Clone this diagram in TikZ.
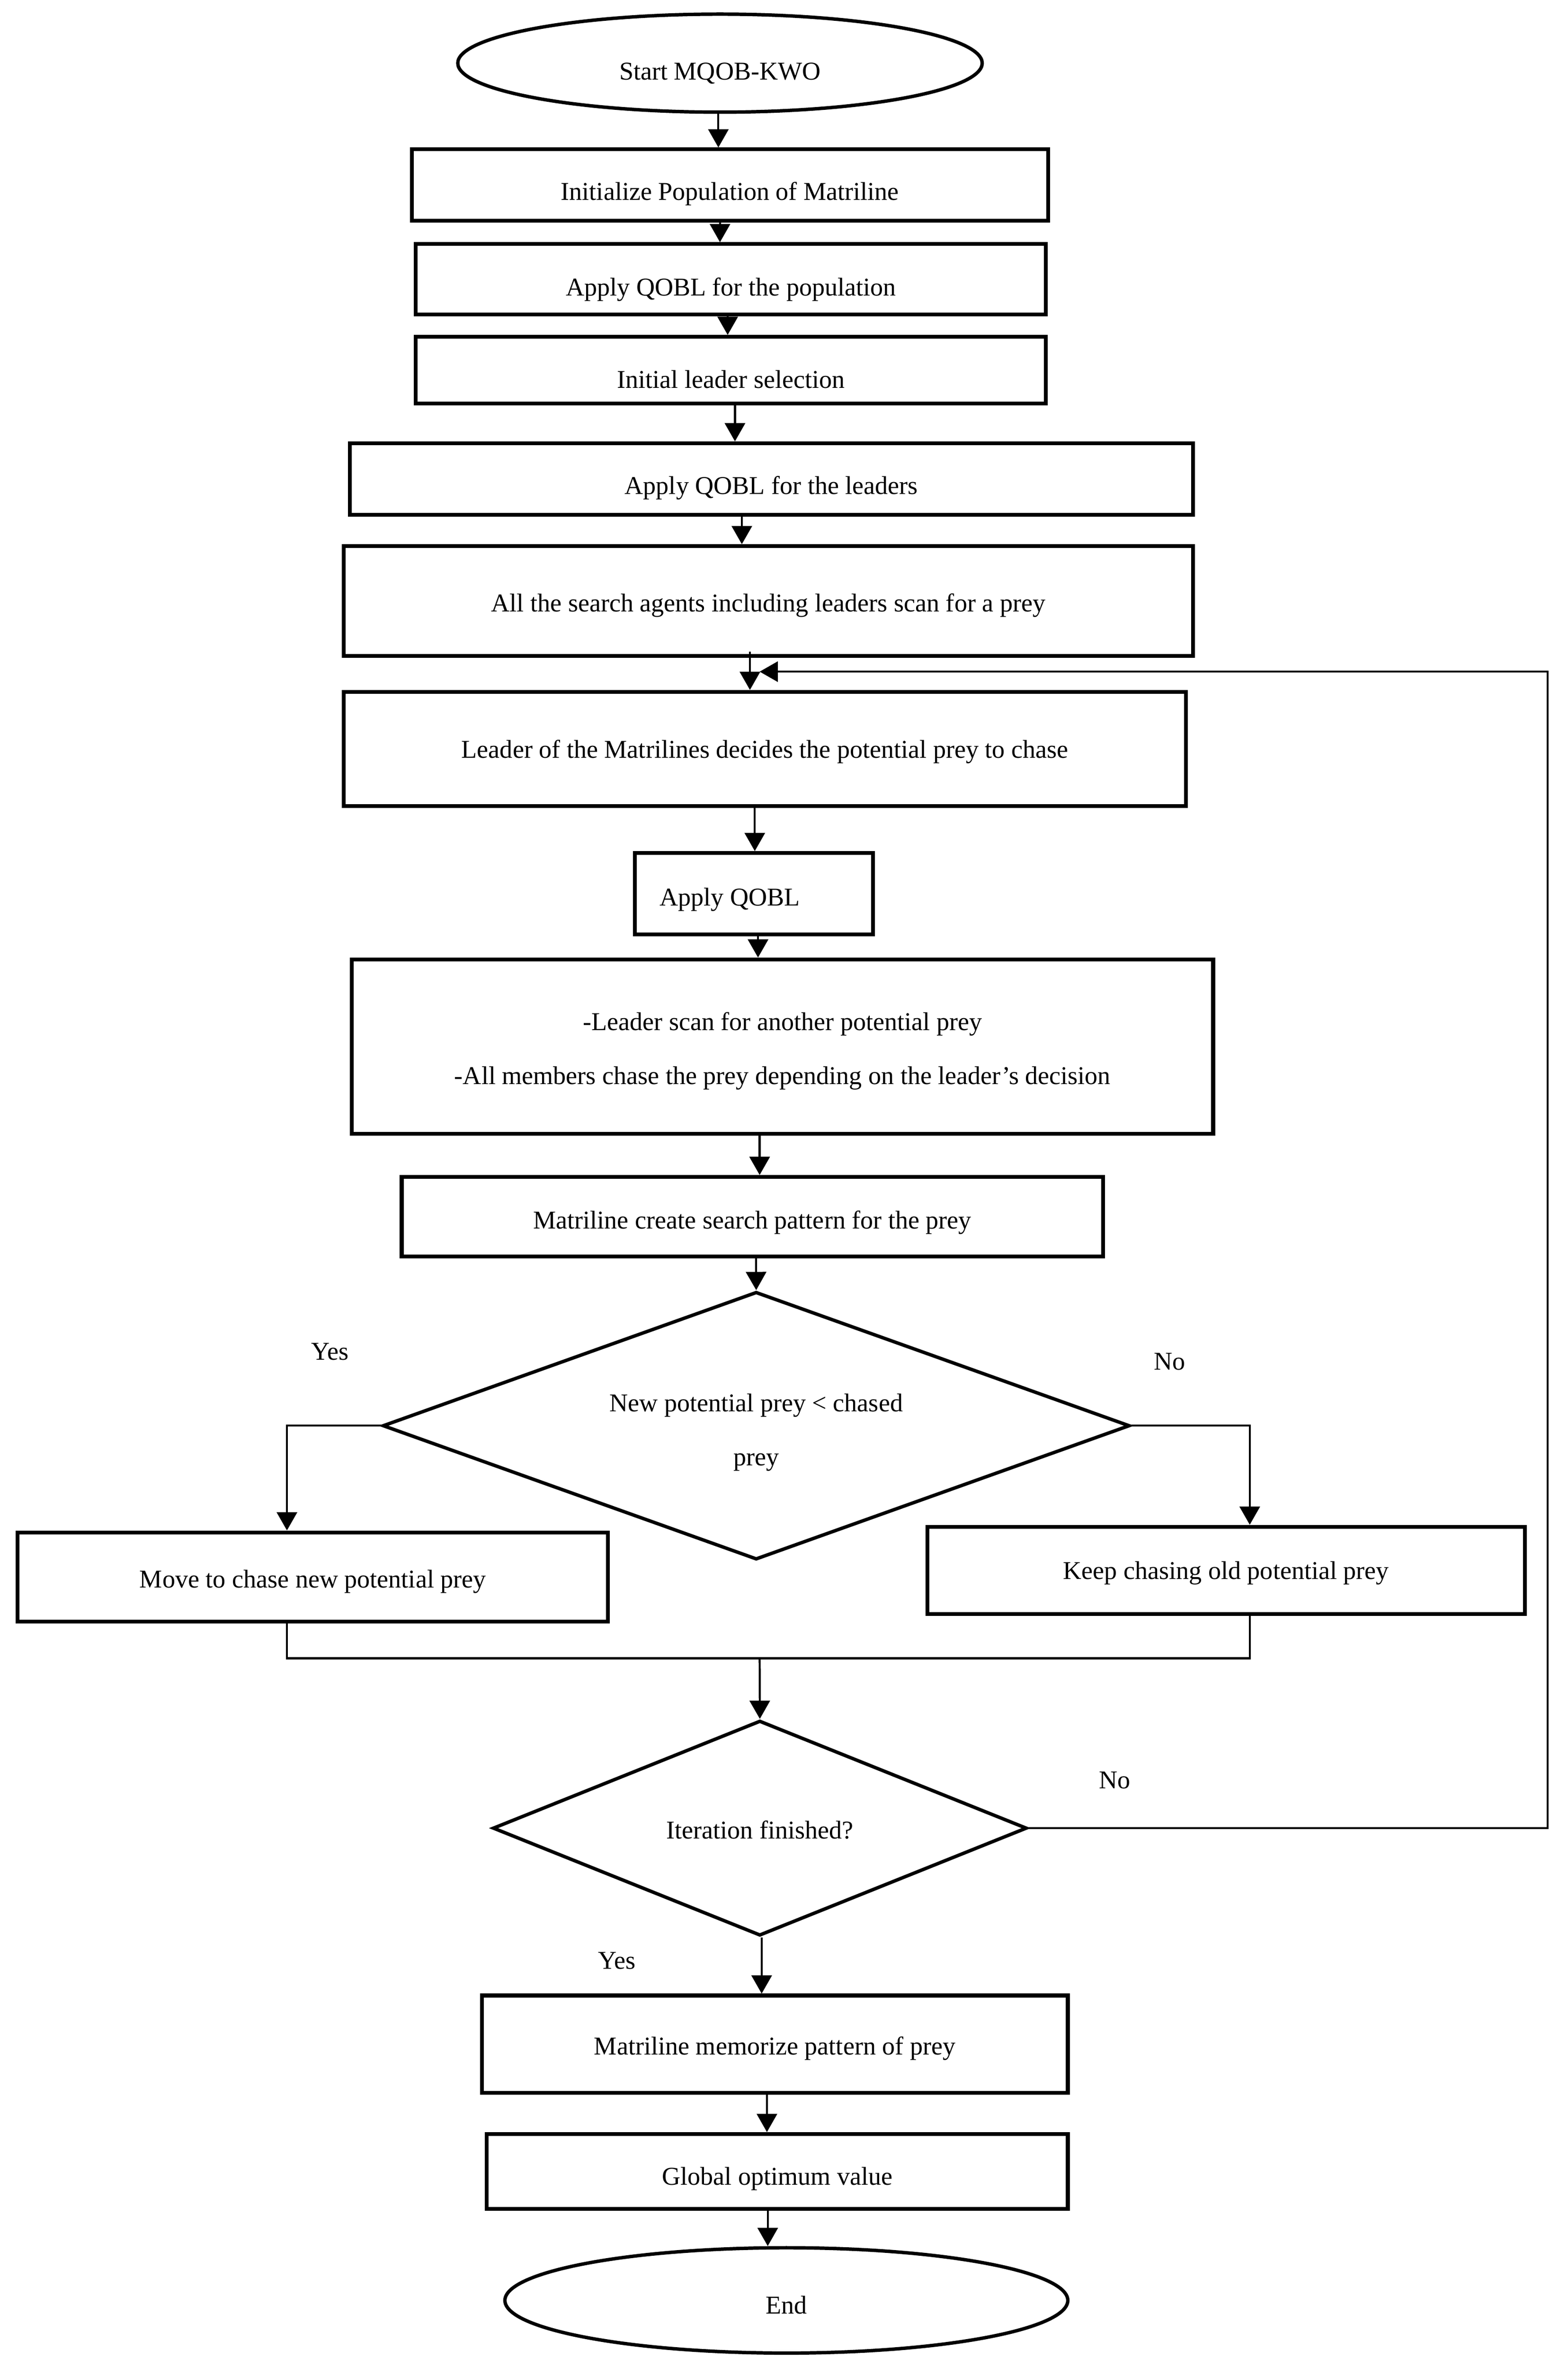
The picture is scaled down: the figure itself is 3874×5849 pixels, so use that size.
\documentclass[tikz,border=0pt]{standalone}
\usepackage{fontspec}
\setmainfont{Liberation Serif}
\usetikzlibrary{shapes.geometric,arrows.meta}
\newcommand\lowertext[2]{\raisebox{-#1}[\height][\depth]{#2}}
\begin{document}
\begin{tikzpicture}[x=0.01cm,y=-0.01cm,
  every node/.style={font=\fontsize{18}{38}\selectfont},
  shp/.style={draw,inner sep=0pt,align=center},
  box/.style={shp,rectangle,line width=2.7pt},
  oval/.style={shp,ellipse,line width=2.4pt},
  dec/.style={shp,diamond,line width=2.4pt},
  arr/.style={line width=1.4pt,-{Triangle[length=0.45cm,width=0.5cm]}},
  ln/.style={line width=1.4pt},
  lbl/.style={inner sep=0pt}]
\useasboundingbox (0,0) rectangle (3874,5849);
\fill[white] (0,0) rectangle (3874,5849);

% shapes
\node[oval,minimum width=12.95cm,minimum height=2.42cm] (start) at (1779,156) {\lowertext{0.25cm}{Start MQOB-KWO}};
\node[box,minimum width=15.71cm,minimum height=1.76cm] (b1) at (1803.5,457) {\lowertext{0.22cm}{Initialize Population of Matriline}};
\node[box,minimum width=15.56cm,minimum height=1.74cm] (b2) at (1806,690) {\lowertext{0.25cm}{Apply QOBL for the population}};
\node[box,minimum width=15.56cm,minimum height=1.65cm] (b3) at (1806,914.5) {\lowertext{0.22cm}{Initial leader selection}};
\node[box,minimum width=20.82cm,minimum height=1.77cm] (b4) at (1906,1183.5) {\lowertext{0.22cm}{Apply QOBL for the leaders}};
\node[box,minimum width=20.97cm,minimum height=2.71cm] (b5) at (1898.5,1484.5) {\lowertext{0.11cm}{All the search agents including leaders scan for a prey}};
\node[box,minimum width=20.80cm,minimum height=2.82cm] (b6) at (1890,1850) {\lowertext{0.07cm}{Leader of the Matrilines decides the potential prey to chase}};
\node[box,minimum width=5.88cm,minimum height=2.01cm] (b7) at (1863,2207.5) {\hspace*{-1.2cm}\lowertext{0.15cm}{Apply QOBL}};
\node[box,minimum width=21.27cm,minimum height=4.30cm] (b8) at (1933.5,2585) {\begin{tabular}{@{}c@{}}-Leader scan for another potential prey\\-All members chase the prey depending on the leader’s decision\end{tabular}};
\node[box,minimum width=17.32cm,minimum height=1.96cm] (b9) at (1859,3005) {\lowertext{0.15cm}{Matriline create search pattern for the prey}};
\node[dec,aspect=2.8,minimum width=18.45cm,minimum height=6.61cm] (d1) at (1868.5,3521.5) {\lowertext{0.05cm}{\begin{tabular}{@{}c@{}}New potential prey < chased\\prey\end{tabular}}};
\node[box,minimum width=14.58cm,minimum height=2.20cm] (b10) at (773,3895) {\lowertext{0.11cm}{Move to chase new potential prey}};
\node[box,minimum width=14.75cm,minimum height=2.16cm] (b11) at (3029.5,3879) {\lowertext{0.07cm}{Keep chasing old potential prey}};
\node[dec,aspect=2.5,minimum width=13.19cm,minimum height=5.31cm] (d2) at (1877.5,4515.5) {\lowertext{0.04cm}{Iteration finished?}};
\node[box,minimum width=14.47cm,minimum height=2.40cm] (b12) at (1914.5,5049) {\lowertext{0.11cm}{Matriline memorize pattern of prey}};
\node[box,minimum width=14.35cm,minimum height=1.85cm] (b13) at (1920.5,5363.5) {\lowertext{0.18cm}{Global optimum value}};
\node[oval,minimum width=13.90cm,minimum height=2.60cm] (end) at (1943,5682) {\lowertext{0.11cm}{End}};

% branch labels
\node[lbl] (yes1) at (815,3339) {Yes};
\node[lbl] (no1) at (2890,3363) {No};
\node[lbl] (no2) at (2754,4397) {No};
\node[lbl] (yes2) at (1524,4843) {Yes};

% columns for vertical connectors
\coordinate (x1) at (1775,0);
\coordinate (x2) at (1779,0);
\coordinate (x3) at (1798,0);
\coordinate (x4) at (1816,0);
\coordinate (x5) at (1833,0);
\coordinate (x6) at (1853,0);
\coordinate (x7) at (1865,0);
\coordinate (x8) at (1873,0);
\coordinate (x9) at (1877,0);
\coordinate (x10) at (1868,0);
\coordinate (xy) at (709,0);
\coordinate (xn) at (3088,0);
\coordinate (xr) at (3824,0);
\coordinate (x11) at (1882,0);
\coordinate (x12) at (1895,0);
\coordinate (x13) at (1897,0);
\coordinate (m) at (1877,4096);
\coordinate (lp) at (1877,1659);

% connectors
\draw[arr] (start.south -| x1) -- (b1.north -| x1);
\draw[arr] (b1.south -| x2) -- (b2.north -| x2);
\draw[arr] (b2.south -| x3) -- (b3.north -| x3);
\draw[arr] (b3.south -| x4) -- (b4.north -| x4);
\draw[arr] (b4.south -| x5) -- (b5.north -| x5);
\draw[arr] ([yshift=0.15cm]b5.south -| x6) -- (b6.north -| x6);
\draw[arr] (b6.south -| x7) -- (b7.north -| x7);
\draw[arr] (b7.south -| x8) -- (b8.north -| x8);
\draw[arr] (b8.south -| x9) -- (b9.north -| x9);
\draw[arr] (b9.south -| x10) -- (d1.north);
\draw[arr] (d1.west) -- (d1.west -| xy) -- (b10.north -| xy);
\draw[arr] (d1.east) -- (d1.east -| xn) -- (b11.north -| xn);
\draw[ln] (b10.south -| xy) |- (m);
\draw[ln] (b11.south -| xn) |- (m);
\draw[arr] (m) -- (d2.north);
\draw[arr] (d2.east) -- (d2.east -| xr) -- (lp -| xr) -- (lp);
\draw[arr] (d2.south -| x11) -- (b12.north -| x11);
\draw[arr] (b12.south -| x12) -- (b13.north -| x12);
\draw[arr] (b13.south -| x13) -- (end.north -| x13);
\end{tikzpicture}
\end{document}
